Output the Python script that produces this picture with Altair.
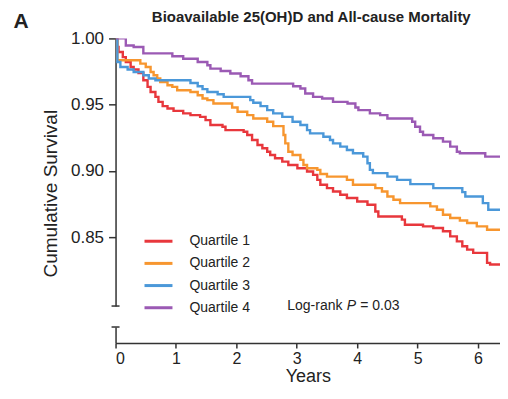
import altair as alt
import pandas as pd

# ---------------- data ----------------
GROUPS = ["Quartile 1", "Quartile 2", "Quartile 3", "Quartile 4"]
COLORS = ["#E8373C", "#F7962F", "#4B98D9", "#9B5AB4"]

q1_years = [0, 0.03, 0.05, 0.12, 0.17, 0.25, 0.30, 0.38, 0.46, 0.53,
            0.58, 0.66, 0.71, 0.78, 0.86, 0.96, 1.12, 1.24, 1.40, 1.49,
            1.57, 1.77, 1.82, 2.12, 2.18, 2.26, 2.35, 2.43, 2.51, 2.56,
            2.64, 2.76, 2.86, 3.01, 3.17, 3.27, 3.34, 3.39, 3.50, 3.60,
            3.72, 3.83, 4.00, 4.17, 4.30, 4.35, 4.74, 4.79, 5.09, 5.26,
            5.42, 5.54, 5.65, 5.74, 5.82, 5.92, 6.15, 6.20]
q1_surv = [1.000, 0.9935, 0.9897, 0.9859, 0.9822, 0.9784, 0.9765, 0.9739, 0.9684, 0.9634,
           0.9596, 0.9559, 0.9521, 0.9489, 0.9471, 0.9453, 0.9434, 0.9421, 0.9408, 0.9383,
           0.9346, 0.9333, 0.9308, 0.9296, 0.9271, 0.9233, 0.9195, 0.9171, 0.9145, 0.9120,
           0.9095, 0.9070, 0.9045, 0.9020, 0.8995, 0.8970, 0.8932, 0.8895, 0.8870, 0.8844,
           0.8820, 0.8795, 0.8769, 0.8744, 0.8694, 0.8656, 0.8632, 0.8594, 0.8581, 0.8569,
           0.8544, 0.8506, 0.8468, 0.8431, 0.8406, 0.8381, 0.8306, 0.8293]

q2_years = [0, 0.03, 0.41, 0.50, 0.58, 0.63, 0.69, 0.74, 0.86, 0.94,
            1.02, 1.24, 1.36, 1.44, 1.52, 1.62, 1.93, 2.02, 2.18, 2.28,
            2.51, 2.61, 2.78, 2.81, 2.86, 2.93, 3.06, 3.11, 3.17, 3.34,
            3.39, 3.50, 3.83, 3.93, 4.30, 4.41, 4.50, 4.60, 4.71, 5.21,
            5.32, 5.42, 5.54, 5.70, 5.82, 5.98, 6.15, 6.41, 6.48]
q2_surv = [1.000, 0.9835, 0.9810, 0.9784, 0.9747, 0.9722, 0.9697, 0.9671, 0.9647, 0.9634,
           0.9609, 0.9596, 0.9571, 0.9547, 0.9534, 0.9509, 0.9479, 0.9446, 0.9421, 0.9396,
           0.9371, 0.9338, 0.9271, 0.9208, 0.9145, 0.9120, 0.9083, 0.9045, 0.9020, 0.9008,
           0.8977, 0.8957, 0.8932, 0.8895, 0.8870, 0.8844, 0.8807, 0.8782, 0.8757, 0.8732,
           0.8707, 0.8669, 0.8644, 0.8626, 0.8607, 0.8581, 0.8556, 0.8519, 0.8486]

q3_years = [0, 0.03, 0.08, 0.20, 0.30, 0.46, 0.55, 0.66, 1.24, 1.36,
            1.44, 1.52, 1.69, 1.79, 2.23, 2.28, 2.40, 2.51, 2.61, 2.76,
            2.93, 3.06, 3.17, 3.22, 3.44, 3.55, 3.60, 3.72, 3.83, 3.93,
            4.10, 4.17, 4.21, 4.26, 4.50, 4.66, 4.88, 5.26, 5.74, 5.79,
            6.08, 6.17]
q3_surv = [1.000, 0.9822, 0.9784, 0.9765, 0.9747, 0.9722, 0.9697, 0.9684, 0.9664, 0.9639,
           0.9617, 0.9596, 0.9579, 0.9559, 0.9534, 0.9514, 0.9489, 0.9459, 0.9434, 0.9408,
           0.9371, 0.9346, 0.9308, 0.9283, 0.9258, 0.9233, 0.9208, 0.9183, 0.9158, 0.9133,
           0.9108, 0.9058, 0.9008, 0.8983, 0.8957, 0.8932, 0.8900, 0.8870, 0.8840, 0.8807,
           0.8757, 0.8707]

q4_years = [0, 0.17, 0.30, 0.46, 0.94, 1.12, 1.36, 1.52, 1.57, 1.74,
            1.90, 2.07, 2.20, 2.26, 2.94, 3.06, 3.14, 3.27, 3.42, 3.60,
            3.84, 3.97, 4.02, 4.21, 4.38, 4.50, 4.91, 4.96, 5.04, 5.09,
            5.26, 5.42, 5.54, 5.65, 5.70, 6.12, 6.48]
q4_surv = [1.000, 0.9947, 0.9935, 0.9887, 0.9865, 0.9847, 0.9822, 0.9797, 0.9772, 0.9754,
           0.9735, 0.9714, 0.9684, 0.9659, 0.9639, 0.9622, 0.9584, 0.9559, 0.9547, 0.9521,
           0.9509, 0.9479, 0.9459, 0.9434, 0.9421, 0.9396, 0.9371, 0.9333, 0.9295, 0.9271,
           0.9246, 0.9221, 0.9183, 0.9145, 0.9133, 0.9108, 0.9070]

X_TICKS = [0, 1, 2, 3, 4, 5, 6]
Y_TICKS = [0.85, 0.90, 0.95, 1.00]
X_END = 6.5          # last follow-up time drawn
X_VIEW = 6.364       # right edge of the visible axis (the reference is cropped there)
Y_MIN = 0.798

TITLE = "Bioavailable 25(OH)D and All-cause Mortality"
PANEL = "A"

# ---------------- table ----------------
rows = []
for name, ts, ss in zip(GROUPS, [q1_years, q2_years, q3_years, q4_years],
                        [q1_surv, q2_surv, q3_surv, q4_surv]):
    for t, s in zip(ts + [X_END], ss + [ss[-1]]):
        rows.append({"years": t, "surv": s, "group": name})
df = pd.DataFrame(rows)

AXIS = "#333333"
TXT = "#222222"
FONT = "Liberation Sans"
W, H_TOP, H_BOT = 385, 268, 16

x_scale = alt.Scale(domain=[0, X_VIEW], nice=False, zero=False)
y_scale = alt.Scale(domain=[Y_MIN, 1.0], nice=False, zero=False)

lines = alt.Chart(df).mark_line(interpolate="step-after", strokeWidth=2.4, clip=True).encode(
    x=alt.X("years:Q", scale=x_scale, axis=None),
    y=alt.Y("surv:Q", scale=y_scale,
            axis=alt.Axis(values=Y_TICKS, format=".2f", title="Cumulative Survival",
                          titleX=-55, titleY=155, titleFontSize=19, labelFontSize=17,
                          tickSize=7, labelPadding=5)),
    color=alt.Color("group:N", scale=alt.Scale(domain=GROUPS, range=COLORS),
                    legend=alt.Legend(title=None, orient="none", legendX=34.5, legendY=194.6,
                                      symbolType="M-2,0H2", symbolSize=196,
                                      symbolStrokeWidth=3, labelFontSize=14,
                                      labelOffset=22.5, rowPadding=6.2, padding=0,
                                      labelColor=TXT, labelFont=FONT)),
    order=alt.Order("years:Q"),
)

cap_top = alt.Chart(pd.DataFrame({"k": [0]})).mark_rule(
    xOffset=-4, x2Offset=4, strokeWidth=1.5, color=AXIS).encode(
    x=alt.XDatum(0, axis=None), x2=alt.X2Datum(0), y=alt.YDatum(Y_MIN))


def label(text, x, y, **kw):
    return alt.Chart(pd.DataFrame({"t": [text]})).mark_text(
        baseline="alphabetic", color=TXT, font=FONT, **kw).encode(
        text="t:N", x=alt.value(x), y=alt.value(y))


panel_lbl = label(PANEL, -102.3, -10.5, fontSize=21, fontWeight="bold", align="left")
title_lbl = label(TITLE, 196, -16, fontSize=15, fontWeight="bold", align="center")
lr1 = label("Log-rank", 172, 272, fontSize=14, align="left")
lr2 = label("P", 231.5, 272, fontSize=14, fontStyle="italic", align="left")
lr3 = label("= 0.03", 245, 272, fontSize=14, align="left")

top = alt.layer(lines, cap_top, panel_lbl, title_lbl, lr1, lr2, lr3).properties(
    width=W, height=H_TOP)

bottom = alt.Chart(pd.DataFrame({"k": [0]})).mark_rule(
    xOffset=-4, x2Offset=4, strokeWidth=1.5, color=AXIS).encode(
    x=alt.XDatum(0, scale=x_scale,
                 axis=alt.Axis(values=X_TICKS, format="d", title="Years",
                               titleFontSize=18, labelFontSize=16, tickSize=5,
                               labelPadding=3, titlePadding=1)),
    x2=alt.X2Datum(0),
    y=alt.YDatum(1, scale=alt.Scale(domain=[0, 1], nice=False),
                 axis=alt.Axis(ticks=False, labels=False, title=None)),
).properties(width=W, height=H_BOT)

chart = alt.vconcat(top, bottom, spacing=21, bounds="flush").properties(
    padding={"left": 4.7, "top": 2.2, "right": 0, "bottom": 0}
).configure(font=FONT).configure_view(stroke=None).configure_axis(
    grid=False, domainColor=AXIS, domainWidth=1.5, tickColor=AXIS, tickWidth=1.5,
    labelColor=TXT, titleColor=TXT, titleFontWeight="normal", labelFont=FONT,
    titleFont=FONT)

chart.save("out.html", embed_options={"renderer": "svg", "actions": False})
